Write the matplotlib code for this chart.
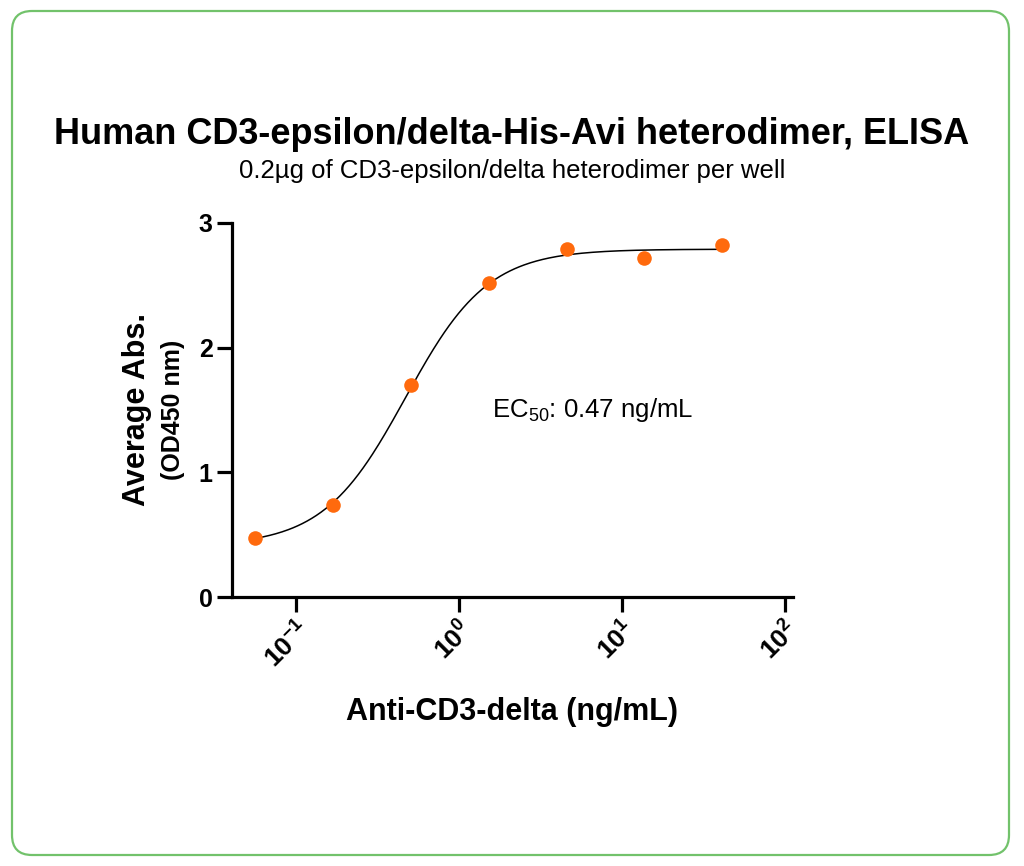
import numpy as np
import matplotlib
matplotlib.use("Agg")
import matplotlib.pyplot as plt
from matplotlib.patches import FancyBboxPatch
from matplotlib.ticker import NullLocator, FixedLocator

plt.rcParams['font.family'] = ['Liberation Sans', 'DejaVu Sans']
plt.rcParams['mathtext.fontset'] = 'custom'
plt.rcParams['mathtext.rm'] = 'Liberation Sans'
plt.rcParams['mathtext.bf'] = 'Liberation Sans:bold'

# data
conc = [0.0564, 0.169, 0.508, 1.524, 4.57, 13.7, 41.2]   # ng/mL
od450 = [0.47, 0.74, 1.70, 2.52, 2.79, 2.72, 2.82]
x_ticks = [0.1, 1, 10, 100]
x_tick_labels = [r'$\mathbf{10^{-1}}$', r'$\mathbf{10^{0}}$', r'$\mathbf{10^{1}}$', r'$\mathbf{10^{2}}$']
y_ticks = [0, 1, 2, 3]

# 4PL fit parameters (estimated)
bottom, top, ec50, hill = 0.41, 2.79, 0.47, 1.72

fig = plt.figure(figsize=(10.24, 8.66), dpi=100)
ax = fig.add_axes([0.2266, 0.3106, 0.5478, 0.4319])

# fitted curve
xs = np.logspace(np.log10(conc[0]), np.log10(conc[-1]), 300)
ys = bottom + (top - bottom) / (1 + (ec50 / xs) ** hill)
ax.plot(xs, ys, color='black', lw=1.1, zorder=2)
ax.plot(conc, od450, 'o', color='#FF6A0D', markersize=10.5, markeredgewidth=0, zorder=3)

ax.set_xscale('log')
ax.set_xlim(10 ** -1.3926, 10 ** 2.049)
ax.set_ylim(0, 3)
ax.xaxis.set_major_locator(FixedLocator(x_ticks))
ax.xaxis.set_minor_locator(NullLocator())
ax.set_xticklabels(x_tick_labels)
ax.set_yticks(y_ticks)
ax.set_yticklabels([str(v) for v in y_ticks])

for s in ['top', 'right']:
    ax.spines[s].set_visible(False)
for s in ['left', 'bottom']:
    ax.spines[s].set_linewidth(2.3)
ax.tick_params(axis='both', length=11, width=2.3, labelsize=18, pad=3)
for lab in ax.get_yticklabels():
    lab.set_fontweight('bold')
for lab in ax.get_xticklabels():
    lab.set_rotation(45)
    lab.set_ha('right')
    lab.set_va('top')
    lab.set_rotation_mode('anchor')
    lab.set_fontsize(19)

ax.text(1.6, 1.5, r'EC$_{50}$: 0.47 ng/mL', fontsize=18.5, ha='left', va='center')

# titles and labels
fig.text(0.5, 1 - 134 / 866, 'Human CD3-epsilon/delta-His-Avi heterodimer, ELISA',
         fontsize=26, fontweight='bold', ha='center', va='center')
fig.text(0.5, 1 - 171 / 866, '0.2µg of CD3-epsilon/delta heterodimer per well',
         fontsize=18.5, ha='center', va='center')
fig.text(137 / 1024, 1 - 410 / 866, 'Average Abs.', rotation=90, fontsize=22,
         fontweight='bold', ha='center', va='center')
fig.text(173 / 1024, 1 - 410 / 866, '(OD450 nm)', rotation=90, fontsize=18,
         fontweight='bold', ha='center', va='center')
fig.text(512 / 1024, 1 - 712 / 866, 'Anti-CD3-delta (ng/mL)', fontsize=22,
         fontweight='bold', ha='center', va='center')

# rounded green frame
frame = FancyBboxPatch((12, 11), 997, 844, boxstyle='round,pad=0,rounding_size=20',
                       transform=None, fill=False, edgecolor='#72C26B', linewidth=1.6)
fig.add_artist(frame)

fig.savefig('out.png', dpi=100)
